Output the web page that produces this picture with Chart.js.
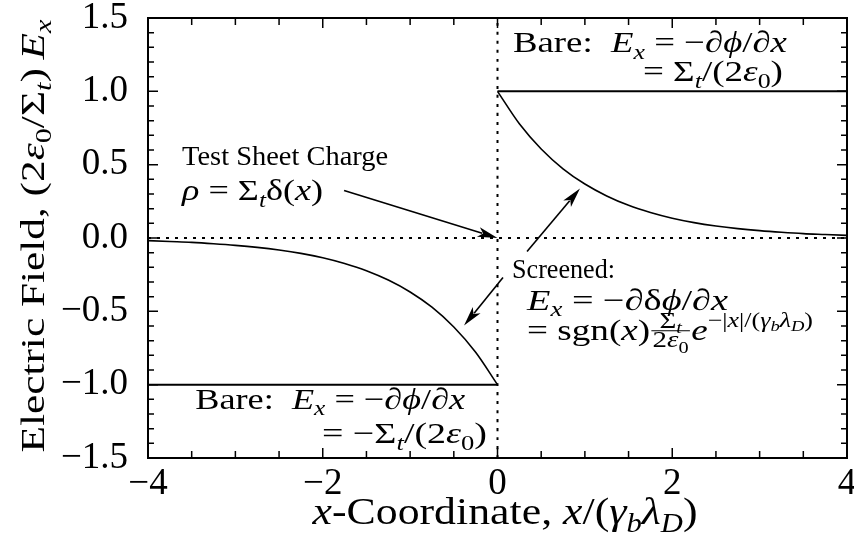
<!DOCTYPE html>
<html><head><meta charset="utf-8">
<script src="https://cdn.jsdelivr.net/npm/chart.js@4.4.1/dist/chart.umd.min.js"></script>
<style>html,body{margin:0;padding:0;background:#fff;}#wrap{width:854px;height:541px;}</style>
</head><body><div id="wrap"><canvas id="c" width="854" height="541"></canvas></div>
<script>
// ---- data ----
const xNeg = [-4, -3.75, -3.5, -3.25, -3, -2.75, -2.5, -2.25, -2, -1.75, -1.5, -1.25, -1, -0.75, -0.5, -0.25, 0];
const screenedNeg = [-0.018, -0.024, -0.030, -0.039, -0.050, -0.064, -0.082, -0.105, -0.135, -0.174, -0.223, -0.287, -0.368, -0.472, -0.607, -0.779, -1.0];
const xPos = [0, 0.25, 0.5, 0.75, 1, 1.25, 1.5, 1.75, 2, 2.25, 2.5, 2.75, 3, 3.25, 3.5, 3.75, 4];
const screenedPos = [1.0, 0.779, 0.607, 0.472, 0.368, 0.287, 0.223, 0.174, 0.135, 0.105, 0.082, 0.064, 0.050, 0.039, 0.030, 0.024, 0.018];
const bareNegX = [-4, 0];
const bareNegY = [-1, -1];
const barePosX = [0, 4];
const barePosY = [1, 1];
const axisZeroX = [-4, 4];
const chargeLineY = [-1.5, 1.5];
const xTickLabels = [-4, -2, 0, 2, 4];
const yTickLabels = [-1.5, -1.0, -0.5, 0.0, 0.5, 1.0, 1.5];

const FONT = "'Liberation Serif', 'Times New Roman', serif";
const PHI = '\u03d5';
const toPts = (xs, ys) => xs.map((x, i) => ({x: x, y: ys[i]}));
const fmt = v => (v < 0 ? '\u2212' : '') + Math.abs(v);

// rich text: parts = [text, flags]; flags: i=italic, b=subscript, p=superscript, q=subscript inside superscript
function partScale(f) {
  if (f.includes('q')) return 0.5;
  return (f.includes('b') || f.includes('p')) ? 0.7 : 1;
}
function partFont(f, size) {
  return (f.includes('i') ? 'italic ' : '') + (size * partScale(f)).toFixed(1) + 'px ' + FONT;
}
function fracWidth(ctx, p, size) {
  return Math.max(measureParts(ctx, p.frac[0], size * 0.78), measureParts(ctx, p.frac[1], size * 0.78)) + 4;
}
function measureParts(ctx, parts, size) {
  let w = 0;
  for (const p of parts) {
    if (p.frac) { w += fracWidth(ctx, p, size); continue; }
    ctx.font = partFont(p[1], size); w += ctx.measureText(p[0]).width;
  }
  return w;
}
function drawRaw(ctx, parts, x0, y, size) {
  let cx = x0;
  ctx.textAlign = 'left'; ctx.textBaseline = 'alphabetic'; ctx.fillStyle = '#000';
  for (const p of parts) {
    if (p.frac) {
      const fw = fracWidth(ctx, p, size);
      const mid = cx + fw / 2, ly = y - size * 0.3;
      const ns = size * 0.78;
      const nw = measureParts(ctx, p.frac[0], ns), dw = measureParts(ctx, p.frac[1], ns);
      drawRaw(ctx, p.frac[0], mid - nw / 2, ly - size * 0.1, ns);
      drawRaw(ctx, p.frac[1], mid - dw / 2, ly + size * 0.56, ns);
      ctx.save(); ctx.strokeStyle = '#000'; ctx.lineWidth = 1;
      ctx.beginPath(); ctx.moveTo(cx + 1, ly); ctx.lineTo(cx + fw - 1, ly); ctx.stroke(); ctx.restore();
      cx += fw; continue;
    }
    const f = p[1];
    ctx.font = partFont(f, size);
    let dy = 0;
    if (f.includes('b')) dy = size * 0.22;
    if (f.includes('p')) dy = -size * 0.42;
    if (f.includes('q')) dy = -size * 0.3;
    ctx.fillText(p[0], cx, y + dy);
    cx += ctx.measureText(p[0]).width;
  }
}
// draw parts, optionally stretched horizontally to a target width (mimics the wider TeX typesetting)
function drawParts(ctx, parts, x, y, size, align, tw) {
  const w = measureParts(ctx, parts, size);
  const W = tw || w, sx = W / w;
  const start = align === 'right' ? x - W : align === 'center' ? x - W / 2 : x;
  ctx.save(); ctx.translate(start, y); ctx.scale(sx, 1);
  drawRaw(ctx, parts, 0, 0, size);
  ctx.restore();
}

function arrow(ctx, x1, y1, x2, y2) {
  const a = Math.atan2(y2 - y1, x2 - x1), L = 20, H = 5;
  ctx.save(); ctx.strokeStyle = '#000'; ctx.fillStyle = '#000'; ctx.lineWidth = 1.6;
  ctx.beginPath(); ctx.moveTo(x1, y1);
  ctx.lineTo(x2 - Math.cos(a) * L * 0.8, y2 - Math.sin(a) * L * 0.8); ctx.stroke();
  ctx.beginPath(); ctx.moveTo(x2, y2);
  ctx.lineTo(x2 - L * Math.cos(a) + H * Math.sin(a), y2 - L * Math.sin(a) - H * Math.cos(a));
  ctx.lineTo(x2 - L * 0.75 * Math.cos(a), y2 - L * 0.75 * Math.sin(a));
  ctx.lineTo(x2 - L * Math.cos(a) - H * Math.sin(a), y2 - L * Math.sin(a) + H * Math.cos(a));
  ctx.closePath(); ctx.fill(); ctx.restore();
}

const decor = {
  id: 'decor',
  afterDatasetsDraw(chart) {
    const {ctx, chartArea: ca, scales: {x, y}} = chart;
    ctx.save();
    ctx.strokeStyle = '#000'; ctx.lineWidth = 1.5;
    for (let i = 0; i <= 16; i++) {
      const v = -4 + i * 0.5, px = x.getPixelForValue(v);
      const len = (i % 4 === 0) ? 10 : 7;
      ctx.beginPath();
      ctx.moveTo(px, ca.bottom); ctx.lineTo(px, ca.bottom - len);
      ctx.moveTo(px, ca.top); ctx.lineTo(px, ca.top + len);
      ctx.stroke();
    }
    for (let i = 0; i <= 30; i++) {
      const v = -1.5 + i * 0.1, py = y.getPixelForValue(v);
      const len = (i % 5 === 0) ? 10 : 6;
      ctx.beginPath();
      ctx.moveTo(ca.left, py); ctx.lineTo(ca.left + len, py);
      ctx.moveTo(ca.right, py); ctx.lineTo(ca.right - len, py);
      ctx.stroke();
    }
    ctx.lineWidth = 2;
    ctx.strokeRect(ca.left, ca.top, ca.right - ca.left, ca.bottom - ca.top);
    ctx.restore();
  },
  afterDraw(chart) {
    const {ctx, scales: {x, y}} = chart;
    const X = v => x.getPixelForValue(v), Y = v => y.getPixelForValue(v);
    const bareEq = [['Bare:  ', ''], ['E', 'i'], ['x', 'ib'], [' = \u2212\u2202', ''], [PHI, 'i'], ['/\u2202', ''], ['x', 'i']];
    ctx.save();
    // annotations
    drawParts(ctx, bareEq, X(0.177), Y(1.266), 30, 'left', 274);
    drawParts(ctx, [['= \u03a3', ''], ['t', 'ib'], ['/(2', ''], ['\u03b5', 'i'], ['0', 'b'], [')', '']], X(3.267), Y(1.068), 30, 'right', 140);
    drawParts(ctx, [['Test Sheet Charge', '']], X(-3.61), Y(0.495), 28, 'left', 206);
    drawParts(ctx, [['\u03c1', 'i'], [' = \u03a3', ''], ['t', 'ib'], ['\u03b4(', ''], ['x', 'i'], [')', '']], X(-3.61), Y(0.256), 30, 'left', 141);
    drawParts(ctx, [['Screened:', '']], X(0.166), Y(-0.27), 27, 'left', 103);
    drawParts(ctx, [['E', 'i'], ['x', 'ib'], [' = \u2212\u2202\u03b4', ''], [PHI, 'i'], ['/\u2202', ''], ['x', 'i']], X(0.338), Y(-0.488), 30, 'left', 201);
    drawParts(ctx, [['= sgn(', ''], ['x', 'i'], [')', ''],
      {frac: [[['\u03a3', ''], ['t', 'ib']], [['2', ''], ['\u03b5', 'i'], ['0', 'b']]]},
      ['e', 'i'], ['\u2212|', 'p'], ['x', 'ip'], ['|/(', 'p'], ['\u03b3', 'ip'], ['b', 'iq'], ['\u03bb', 'ip'], ['D', 'iq'], [')', 'p']], X(0.338), Y(-0.693), 30, 'left', 286);
    drawParts(ctx, bareEq, X(-3.46), Y(-1.164), 30, 'left', 270);
    drawParts(ctx, [['= \u2212\u03a3', ''], ['t', 'ib'], ['/(2', ''], ['\u03b5', 'i'], ['0', 'b'], [')', '']], X(-0.12), Y(-1.40), 30, 'right', 165);
    // arrows
    arrow(ctx, X(-1.756), Y(0.324), X(0), Y(0));
    arrow(ctx, X(0.338), Y(-0.092), X(0.944), Y(0.338));
    arrow(ctx, X(0.063), Y(-0.27), X(-0.383), Y(-0.597));
    // axis titles
    drawParts(ctx, [['x', 'i'], ['-Coordinate, ', ''], ['x', 'i'], ['/(', ''], ['\u03b3', 'i'], ['b', 'ib'], ['\u03bb', 'i'], ['D', 'ib'], [')', '']], 505, 524, 38, 'center', 385);
    ctx.save(); ctx.translate(44, 236); ctx.rotate(-Math.PI / 2);
    drawParts(ctx, [['Electric Field, (2', ''], ['\u03b5', 'i'], ['0', 'b'], ['/\u03a3', ''], ['t', 'ib'], [')\u2009', ''], ['E', 'i'], ['x', 'ib']], 0, 0, 34, 'center', 433);
    ctx.restore();
    ctx.restore();
  }
};

const line = (data, w, dash) => ({data, borderColor: '#000', borderWidth: w, borderDash: dash || [], pointRadius: 0, fill: false, cubicInterpolationMode: 'monotone'});

new Chart(document.getElementById('c'), {
  type: 'line',
  data: {
    datasets: [
      line(toPts(xNeg, screenedNeg), 1.6),
      line(toPts(xPos, screenedPos), 1.6),
      line(toPts(bareNegX, bareNegY), 2),
      line(toPts(barePosX, barePosY), 2),
      line(toPts(axisZeroX, [0, 0]), 2, [3, 6]),
      line(toPts([0, 0], chargeLineY), 2, [3, 6])
    ]
  },
  options: {
    responsive: false, animation: false, devicePixelRatio: 1,
    layout: {padding: {top: 18, right: 7, left: 0, bottom: 0}},
    plugins: {legend: {display: false}, tooltip: {enabled: false}},
    scales: {
      x: {
        type: 'linear', min: -4, max: 4, position: 'bottom',
        grid: {display: false, drawTicks: false}, border: {display: false},
        afterBuildTicks: s => { s.ticks = xTickLabels.map(v => ({value: v})); },
        ticks: {color: '#000', font: {family: FONT, size: 37}, padding: 4, maxRotation: 0, autoSkip: false, callback: v => fmt(v)},
        afterFit: s => { s.height = 83; s.paddingLeft = 0; s.paddingRight = 0; }
      },
      y: {
        type: 'linear', min: -1.5, max: 1.5,
        grid: {display: false, drawTicks: false}, border: {display: false},
        afterBuildTicks: s => { s.ticks = yTickLabels.map(v => ({value: v})); },
        ticks: {color: '#000', font: {family: FONT, size: 37}, padding: 20, autoSkip: false, callback: v => (v < 0 ? '\u2212' : '') + Math.abs(v).toFixed(1)},
        afterFit: s => { s.width = 148; s.paddingTop = 0; s.paddingBottom = 0; }
      }
    }
  },
  plugins: [decor]
});
</script></body></html>
